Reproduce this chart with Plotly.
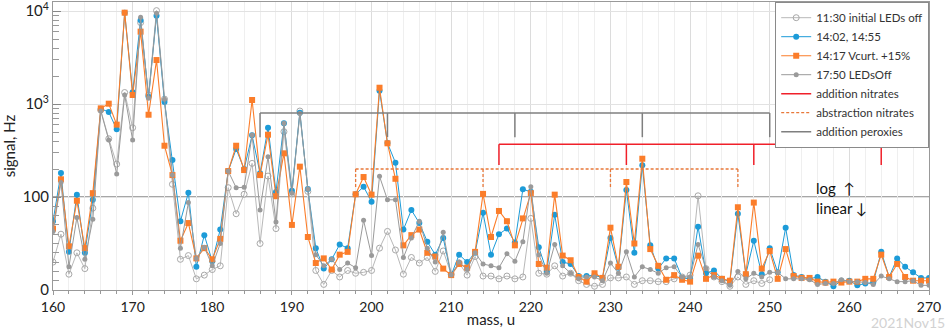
import math
import plotly.graph_objects as go

# mass axis
mass = list(range(160, 271))

# 11:30 initial LEDs off (measured only up to 250 u)
sig_1130 = [30, 60, 17, 40, 23, 88, 860, 423, 226, 1330,
            556, 7500, 1250, 10100, 1130, 137, 33, 37, 12, 16,
            22, 26, 126, 82, 107, 230, 50, 168, 66, 504,
            108, 841, 115, 21, 6, 21, 14, 21, 18, 19,
            21, 45, 63, 43, 17, 35, 29, 35, 20, 42,
            17, 29, 16, 36, 15, 15, 12, 15, 12, 14,
            77, 18, 17, 26, 15, 18, 10, 6, 4, 6,
            13, 13, 14, 6, 10, 10, 9, 9, 12, 14,
            16, 103, 23, 14, 9, 4, 14, 6, 10, 7,
            11] + [None] * 20

# 14:02, 14:55
sig_1402 = [74, 181, 41, 106, 40, 97, 890, 820, 534, 9600,
            1335, 7940, 1200, 8910, 1050, 250, 74, 111, 25, 59,
            31, 65, 190, 328, 200, 460, 180, 556, 113, 620,
            117, 807, 122, 45, 23, 33, 49, 45, 107, 129,
            95, 1390, 380, 234, 65, 86, 72, 52, 38, 56,
            16, 38, 30, 40, 83, 38, 60, 66, 51, 121,
            114, 46, 20, 81, 30, 28, 15, 15, 16, 13,
            56, 24, 119, 40, 219, 48, 23, 34, 34, 13,
            12, 68, 18, 21, 12, 9, 82, 17, 53, 17,
            45, 19, 67, 16, 14, 12, 14, 9, 4, 10,
            10, 5, 7, 8, 41, 14, 34, 25, 19, 13,
            13]

# 14:17 Vcurt. +15%
sig_1417 = [66, 155, 47, 96, 45, 110, 898, 1008, 600, 9600,
            1250, 6000, 767, 2970, 356, 172, 53, 72, 34, 45,
            33, 55, 190, 356, 195, 1104, 172, 468, 102, 295,
            70, 212, 57, 29, 34, 22, 38, 41, 107, 164,
            106, 1497, 378, 157, 48, 59, 65, 40, 36, 23,
            16, 28, 24, 41, 108, 57, 85, 74, 48, 77,
            110, 28, 24, 106, 37, 32, 14, 9, 18, 13,
            67, 25, 145, 50, 258, 44, 26, 11, 16, 11,
            9, 37, 12, 16, 12, 10, 89, 17, 94, 23,
            42, 12, 44, 15, 13, 13, 9, 8, 9, 8,
            9, 9, 12, 12, 38, 14, 28, 14, 10, 10,
            10]

# 17:50 LEDsOff
sig_1750 = [63, 143, 25, 78, 33, 76, 841, 410, 177, 1250,
            410, 8550, 1150, 9440, 1123, 172, 45, 94, 34, 46,
            26, 50, 190, 126, 127, 464, 86, 271, 73, 620,
            110, 790, 122, 38, 26, 33, 22, 29, 24, 75,
            37, 167, 97, 97, 35, 56, 74, 45, 30, 62,
            16, 30, 22, 40, 28, 26, 24, 39, 31, 52,
            129, 38, 18, 49, 26, 18, 12, 14, 14, 10,
            29, 18, 41, 14, 25, 22, 18, 24, 25, 14,
            14, 49, 23, 14, 10, 5, 20, 12, 18, 14,
            19, 19, 12, 12, 12, 11, 6, 7, 7, 11,
            9, 9, 8, 6, 15, 12, 9, 9, 10, 5,
            5]

# bracket combs: masses of teeth, level of bar, level of tooth end
perox_m = [186, 202, 218, 234, 250]
perox_lv = (800, 440)
addn_m = [216, 232, 248, 264]
addn_lv = (370, 221)
abstr_m = [198, 214, 230, 246]
abstr_lv = (200, 122)

ytick_vals = [0, 100, 1000, 10000]
ytick_text = ["0", "100", "10<sup>3</sup>", "10<sup>4</sup>"]


def tr(v):
    # linear below 100, log above
    if v is None:
        return None
    if v <= 100:
        return v / 100.0
    return 1 + math.log10(v / 100.0)


def comb(ms, lv):
    xs = [ms[0], ms[-1], None]
    ys = [tr(lv[0]), tr(lv[0]), None]
    for m in ms:
        xs += [m, m, None]
        ys += [tr(lv[0]), tr(lv[1]), None]
    return xs, ys


FONT = "Lato"
fig = go.Figure()

fig.add_trace(go.Scatter(
    x=mass, y=[tr(v) for v in sig_1130], mode="lines+markers",
    name="11:30 initial LEDs off",
    line=dict(color="#b8b8b8", width=1),
    marker=dict(symbol="circle-open", size=6, color="#a8a8a8", line=dict(width=1)),
))
fig.add_trace(go.Scatter(
    x=mass, y=[tr(v) for v in sig_1402], mode="lines+markers",
    name="14:02, 14:55",
    line=dict(color="#1c9bd8", width=1),
    marker=dict(symbol="circle", size=6, color="#1c9bd8"),
))
fig.add_trace(go.Scatter(
    x=mass, y=[tr(v) for v in sig_1417], mode="lines+markers",
    name="14:17 Vcurt. +15%",
    line=dict(color="#fb7d2a", width=1.1),
    marker=dict(symbol="square", size=6, color="#fb7d2a"),
))
fig.add_trace(go.Scatter(
    x=mass, y=[tr(v) for v in sig_1750], mode="lines+markers",
    name="17:50 LEDsOff",
    line=dict(color="#9a9a9a", width=1),
    marker=dict(symbol="circle", size=5, color="#9a9a9a"),
))

for ms, lv, nm, ln in [
    (addn_m, addn_lv, "addition nitrates", dict(color="#f0202a", width=1.5)),
    (abstr_m, abstr_lv, "abstraction nitrates", dict(color="#e8783a", width=1.3, dash="3px,2px")),
    (perox_m, perox_lv, "addition peroxies", dict(color="#7f7f7f", width=1.5)),
]:
    xs, ys = comb(ms, lv)
    fig.add_trace(go.Scatter(x=xs, y=ys, mode="lines", name=nm, line=ln,
                             hoverinfo="skip"))

# boundary between linear and log parts
fig.add_shape(type="line", xref="paper", x0=0, x1=1, yref="y", y0=1, y1=1,
              line=dict(color="#8a8a8a", width=1.5), layer="below")

ymax = 3.097
minor_y = [v / 100 for v in range(10, 100, 10)]
for dec in (2, 3):
    for k in range(2, 10):
        minor_y.append(dec - 1 + math.log10(k))

fig.update_layout(
    width=948, height=330,
    margin=dict(l=53, r=19, t=2, b=40, autoexpand=False),
    paper_bgcolor="white", plot_bgcolor="white",
    font=dict(family=FONT, size=14, color="#222"),
    xaxis=dict(
        range=[160, 270], dtick=10, tick0=160, automargin=False,
        showline=True, mirror=True, linecolor="#999", linewidth=1.2,
        showgrid=True, gridcolor="#dcdcdc", gridwidth=1,
        ticks="outside", ticklen=4, tickcolor="#999",
        minor=dict(dtick=2, showgrid=True, gridcolor="#efefef",
                   ticks="outside", ticklen=3, tickcolor="#999"),
        zeroline=False,
        title=dict(text="mass, u", font=dict(size=15), standoff=0),
        tickfont=dict(size=14),
    ),
    yaxis=dict(
        range=[0, ymax], automargin=False, ticklabeloverflow="allow",
        tickmode="array", tickvals=[tr(v) for v in ytick_vals], ticktext=ytick_text,
        showline=True, mirror=True, linecolor="#999", linewidth=1.2,
        showgrid=True, gridcolor="#e2e2e2",
        ticks="inside", ticklen=8, tickcolor="#888",
        minor=dict(tickmode="array", tickvals=minor_y, ticks="inside",
                   ticklen=6, tickcolor="#999", showgrid=False),
        zeroline=False,
        title=dict(text="signal, Hz", font=dict(size=15), standoff=4),
        tickfont=dict(size=15),
    ),
    legend=dict(
        x=1, y=1, xanchor="right", yanchor="top",
        bgcolor="white", bordercolor="#8a8a8a", borderwidth=1.2,
        font=dict(family=FONT, size=11.5, color="#333"),
        itemwidth=30, tracegroupgap=0,
    ),
    showlegend=True,
)

fig.add_annotation(x=255.6, y=tr(125), text="log  \u2191", showarrow=False,
                   xanchor="left", yanchor="middle", font=dict(size=15, color="#111"))
fig.add_annotation(x=255.6, y=tr(88), text="linear \u2193", showarrow=False,
                   xanchor="left", yanchor="middle", font=dict(size=15, color="#111"))
fig.add_annotation(xref="paper", yref="paper", x=1.02, y=-0.113, text="2021Nov15",
                   showarrow=False, xanchor="right", yanchor="middle",
                   font=dict(size=14, color="#d2d2d2"))

fig.write_html("out.html", config={"displayModeBar": False},
               post_script="document.body.style.margin='0';")
